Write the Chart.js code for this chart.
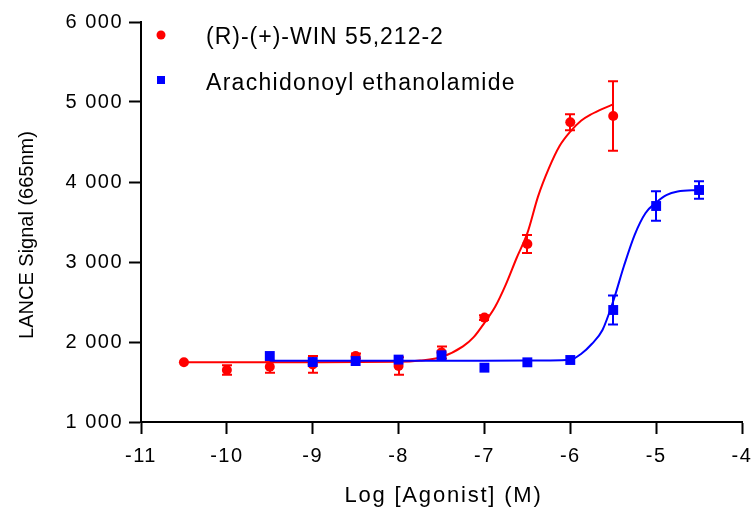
<!DOCTYPE html>
<html><head><meta charset="utf-8">
<script src="https://cdn.jsdelivr.net/npm/chart.js@4/dist/chart.umd.min.js"></script>
<style>html,body{margin:0;padding:0;background:#fff}#wrap{width:751px;height:508px;position:relative}canvas{display:block}</style>
</head><body><div id="wrap"><canvas id="c" width="751" height="508"></canvas></div>
<script>
// ---- Data ----
const seriesNames = ['(R)-(+)-WIN 55,212-2', 'Arachidonoyl ethanolamide'];

const redX   = [-10.5, -10, -9.5, -9, -8.5, -8, -7.5, -7, -6.5, -6, -5.5];
const redY   = [1746, 1650, 1690, 1720, 1825, 1700, 1870, 2305, 3225, 4746, 4825];
const redErr = [0, 60, 75, 105, 30, 110, 75, 30, 112, 100, 433];

const blueX   = [-9.5, -9, -8.5, -8, -7.5, -7, -6.5, -6, -5.5, -5, -4.5];
const blueY   = [1825, 1750, 1762, 1780, 1834, 1679, 1746, 1775, 2400, 3700, 3900];
const blueErr = [0, 0, 0, 0, 0, 0, 0, 0, 180, 185, 110];

// fitted curves
const redCurveX = [-10.5, -9, -8, -7.75, -7.5, -7.25, -7.125, -7, -6.875, -6.75, -6.625, -6.5, -6.375, -6.25, -6.125, -6, -5.875, -5.75, -5.625, -5.5];
const redCurveY = [1746, 1747, 1752, 1768, 1812, 1945, 2060, 2240, 2440, 2720, 3050, 3360, 3820, 4170, 4450, 4630, 4765, 4850, 4915, 4970];

const blueCurveX = [-9.5, -7, -6.25, -6, -5.875, -5.75, -5.625, -5.5, -5.375, -5.25, -5.125, -5, -4.875, -4.75, -4.5];
const blueCurveY = [1766, 1767, 1770, 1778, 1850, 1975, 2150, 2510, 2950, 3340, 3610, 3745, 3840, 3880, 3900];

const xTickMin = -11, xTickMax = -4, xStep = 1;
const yTickMin = 1000, yTickMax = 6000, yStep = 1000;

const xTitle = 'Log [Agonist] (M)';
const yTitle = 'LANCE Signal (665nm)';

const RED = '#ff0000', BLUE = '#0000ff';
const FONT = '"Liberation Sans", Arial, sans-serif';

function pts(xs, ys) { return xs.map((x, i) => ({x: x, y: ys[i]})); }

const errorBars = {
  id: 'errorBars',
  beforeDatasetsDraw(chart) {
    const ctx = chart.ctx, xs = chart.scales.x, ys = chart.scales.y;
    const sets = [[redX, redY, redErr, RED], [blueX, blueY, blueErr, BLUE]];
    ctx.save();
    ctx.lineWidth = 2;
    sets.forEach(([X, Y, E, col]) => {
      ctx.strokeStyle = col;
      X.forEach((xv, i) => {
        if (!E[i]) return;
        const px = Math.round(xs.getPixelForValue(xv));
        const t = ys.getPixelForValue(Y[i] + E[i]);
        const b = ys.getPixelForValue(Y[i] - E[i]);
        ctx.beginPath();
        ctx.moveTo(px, t); ctx.lineTo(px, b);
        ctx.moveTo(px - 5, t); ctx.lineTo(px + 5, t);
        ctx.moveTo(px - 5, b); ctx.lineTo(px + 5, b);
        ctx.stroke();
      });
    });
    ctx.restore();
  }
};

const textDeco = {
  id: 'textDeco',
  beforeDraw(chart) { chart.ctx.letterSpacing = '1.5px'; },
  afterDraw(chart) {
    const ctx = chart.ctx;
    const ca = chart.chartArea;
    ctx.save();
    ctx.fillStyle = '#000';
    // x title
    ctx.letterSpacing = '1.8px';
    ctx.font = '22px ' + FONT;
    ctx.textBaseline = 'alphabetic';
    ctx.textAlign = 'left';
    let w = ctx.measureText(xTitle).width;
    ctx.fillText(xTitle, (ca.left + ca.right) / 2 + 2 - w / 2, 502);
    // y title
    ctx.save();
    ctx.letterSpacing = '0px';
    ctx.font = '20px ' + FONT;
    ctx.translate(33, 235);
    ctx.rotate(-Math.PI / 2);
    ctx.textAlign = 'center';
    ctx.fillText(yTitle, 0, 0);
    ctx.restore();
    // legend
    ctx.font = '23px ' + FONT;
    ctx.textAlign = 'left';
    ctx.fillStyle = RED;
    ctx.beginPath(); ctx.arc(161, 35, 4.5, 0, Math.PI * 2); ctx.fill();
    ctx.fillStyle = BLUE;
    ctx.fillRect(157, 76, 8, 8);
    ctx.fillStyle = '#000';
    ctx.letterSpacing = '1px';
    ctx.fillText(seriesNames[0], 206, 43.5);
    ctx.letterSpacing = '1.3px';
    ctx.fillText(seriesNames[1], 206, 90);
    ctx.restore();
  }
};

new Chart(document.getElementById('c'), {
  type: 'scatter',
  data: {
    datasets: [
      {label: seriesNames[1], data: pts(blueX, blueY), pointStyle: 'rect', pointRadius: 7, pointHoverRadius: 7,
       backgroundColor: BLUE, borderColor: BLUE, borderWidth: 0, showLine: false, order: 0},
      {label: seriesNames[0], data: pts(redX, redY), pointStyle: 'circle', pointRadius: 5, pointHoverRadius: 5,
       backgroundColor: RED, borderColor: RED, borderWidth: 0, showLine: false, order: 1},
      {label: 'fit blue', data: pts(blueCurveX, blueCurveY), showLine: true, pointRadius: 0, borderColor: BLUE,
       borderWidth: 2, cubicInterpolationMode: 'monotone', fill: false, order: 2},
      {label: 'fit red', data: pts(redCurveX, redCurveY), showLine: true, pointRadius: 0, borderColor: RED,
       borderWidth: 2, cubicInterpolationMode: 'monotone', fill: false, order: 3}
    ]
  },
  options: {
    responsive: false,
    devicePixelRatio: 1,
    animation: false,
    layout: {padding: {top: 22, right: 9, left: 0, bottom: 0}},
    plugins: {legend: {display: false}, tooltip: {enabled: false}, title: {display: false}},
    scales: {
      x: {
        type: 'linear', min: xTickMin, max: xTickMax,
        ticks: {stepSize: xStep, color: '#000', font: {family: FONT, size: 20}, padding: 10, maxRotation: 0, autoSkip: false},
        grid: {display: true, drawOnChartArea: false, drawTicks: true, tickLength: 12, tickWidth: 2, tickColor: '#000', color: '#000'},
        border: {display: true, color: '#000', width: 2},
        afterFit(s) { s.height = 86; s.paddingLeft = 0; s.paddingRight = 0; }
      },
      y: {
        type: 'linear', min: yTickMin, max: yTickMax,
        ticks: {stepSize: yStep, color: '#000', font: {family: FONT, size: 20}, padding: 6,
          callback: v => String(v).replace(/\B(?=(\d{3})+(?!\d))/g, ' ')},
        grid: {display: true, drawOnChartArea: false, drawTicks: true, tickLength: 12, tickWidth: 2, tickColor: '#000', color: '#000'},
        border: {display: true, color: '#000', width: 2},
        afterFit(s) { s.width = 141; s.paddingTop = 0; s.paddingBottom = 0; }
      }
    }
  },
  plugins: [errorBars, textDeco]
});
</script></body></html>
